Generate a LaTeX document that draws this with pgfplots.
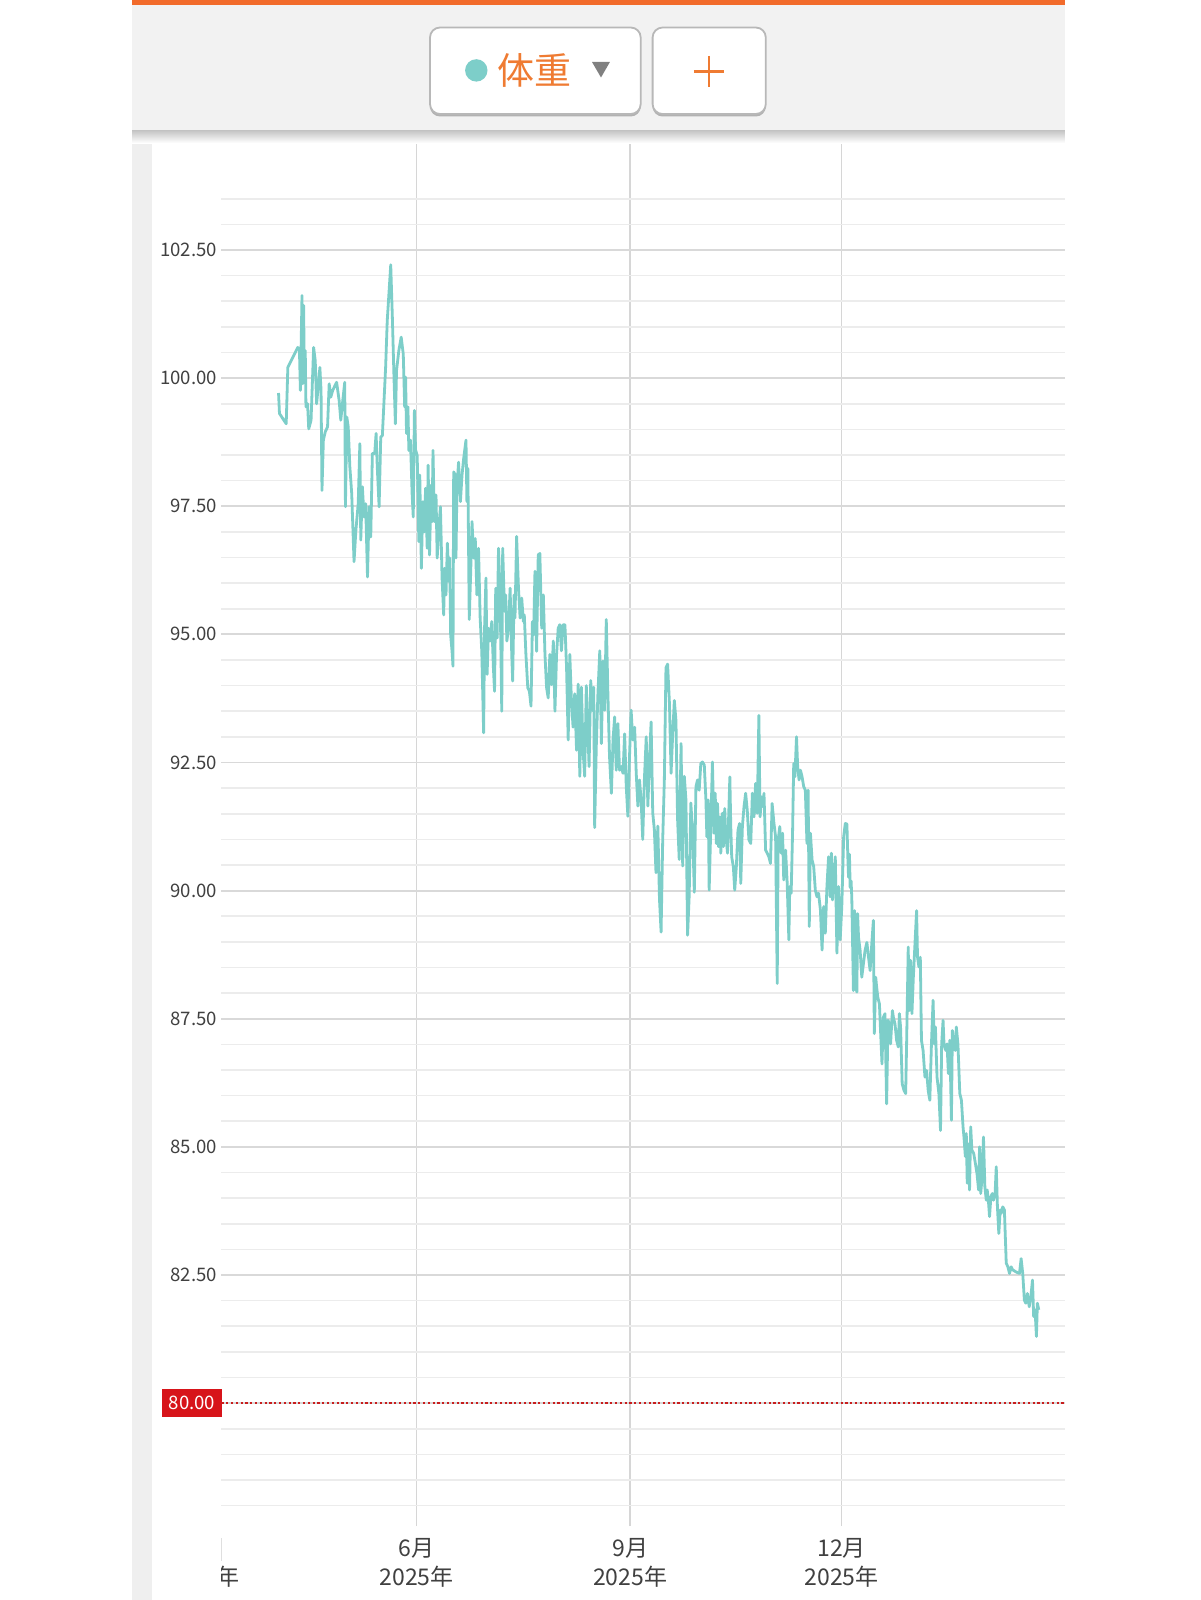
\documentclass[border=0pt]{standalone}
\usepackage{fontspec}
\setmainfont{Noto Sans CJK SC}
\usepackage{pgfplots}
\pgfplotsset{compat=1.18}
\definecolor{barorange}{HTML}{F26B2B}
\definecolor{headgray}{HTML}{F2F2F2}
\definecolor{stripgray}{HTML}{EFEFEF}
\definecolor{tealline}{HTML}{7DCEC9}
\definecolor{txtorange}{HTML}{EF7B32}
\definecolor{labelgray}{HTML}{404040}
\definecolor{vgrid}{HTML}{D6D6D6}
\definecolor{hmajor}{HTML}{D9D9D9}
\definecolor{hminor}{HTML}{ECECEC}
\definecolor{boxred}{HTML}{D7141A}
\definecolor{dotred}{HTML}{C81E1E}
\begin{document}
\begin{tikzpicture}
\begin{scope}[x=0.5pt,y=-0.5pt]
  \fill[white] (0,0) rectangle (1200,1600);
  \fill[stripgray] (132,131) rectangle (151.9,1600);
\end{scope}
\begin{axis}[
  at={(110.7pt,-763.05pt)}, anchor=south west,
  scale only axis, width=421.8pt, height=693.9pt,
  xmin=-84.0, xmax=279.2, ymin=77.6, ymax=104.68,
  axis line style={draw=none},
  major tick length=0pt, minor tick length=0pt,
  xtick={0,92,183},
  xticklabels={{6月\\2025年},{9月\\2025年},{12月\\2025年}},
  xticklabel style={align=center, font=\fontsize{11.5}{14.5}\selectfont, text=labelgray, anchor=north, inner sep=0pt, yshift=-6pt},
  ytick={82.5,85,87.5,90,92.5,95,97.5,100,102.5},
  yticklabels={82.50,85.00,87.50,90.00,92.50,95.00,97.50,100.00,102.50},
  yticklabel style={font=\fontsize{9.3}{11}\selectfont, text=labelgray, anchor=base east, inner sep=0pt, xshift=-2pt, yshift=-3.3pt},
  minor ytick={78,78.5,79,79.5,80.5,81,81.5,82,83,83.5,84,84.5,85.5,86,86.5,87,88,88.5,89,89.5,90.5,91,91.5,92,93,93.5,94,94.5,95.5,96,96.5,97,98,98.5,99,99.5,100.5,101,101.5,102,103,103.5},
  xmajorgrids, ymajorgrids, yminorgrids,
  x grid style={vgrid, line width=0.9pt},
  major grid style={hmajor, line width=0.9pt},
  minor grid style={hminor, line width=0.8pt},
  extra y ticks={80}, extra y tick labels={80.00},
  extra y tick style={yticklabel style={fill=boxred, text=white, minimum width=30pt, minimum height=14pt, inner sep=0pt, xshift=2.5pt}},
]
\addplot[dotred, line width=1.1pt, dash pattern=on 1.1pt off 1.3pt] coordinates {(-84.0,80) (279.2,80)};
\addplot[tealline, line width=1.4pt, line join=round] coordinates {
(-59.4,99.71) (-59.0,99.31) (-56.1,99.11) (-55.4,100.21) (-51.1,100.60) (-50.4,100.54) (-50.0,99.76) (-49.3,101.61) (-49.0,99.89) (-48.6,101.42) (-48.3,100.02) (-47.9,100.54) (-47.6,99.44) (-46.9,99.50) (-46.4,99.01) (-45.4,99.18) (-44.3,100.60) (-43.6,100.34) (-43.0,99.50) (-42.1,99.95) (-41.6,100.21) (-41.1,99.76) (-40.7,97.81) (-40.1,98.79) (-39.3,98.95) (-38.3,99.05) (-37.6,99.89) (-36.9,99.63) (-36.1,99.76) (-34.4,99.92) (-33.3,99.56) (-32.6,99.18) (-31.9,99.50) (-30.9,99.92) (-30.6,97.49) (-30.0,99.24) (-29.4,99.05) (-28.7,98.27) (-27.9,97.75) (-26.9,96.42) (-26.1,97.03) (-25.1,97.55) (-24.4,98.72) (-24.0,96.84) (-23.3,97.88) (-22.6,97.29) (-21.9,97.55) (-21.1,96.12) (-20.4,97.49) (-19.7,96.90) (-19.0,98.53) (-18.0,98.53) (-17.4,98.92) (-16.9,98.27) (-16.1,97.49) (-15.4,98.85) (-14.7,98.88) (-13.3,100.21) (-12.6,101.12) (-11.1,102.21) (-10.4,101.19) (-9.7,100.02) (-9.1,99.11) (-8.6,100.15) (-7.6,100.54) (-6.6,100.80) (-5.7,100.47) (-5.1,99.44) (-4.7,100.02) (-4.3,98.92) (-3.7,99.44) (-3.3,98.59) (-2.6,98.79) (-1.9,97.75) (-1.4,97.29) (-0.9,99.37) (-0.4,98.6)
(0.3,98.49) (1.0,96.81) (1.4,98.11) (2.1,96.29) (2.7,97.59) (3.4,97.00) (3.9,97.85) (4.6,96.68) (5.0,98.30) (5.6,96.55) (6.3,97.91) (6.7,97.20) (7.1,98.59) (7.7,97.20) (8.4,97.72) (8.9,96.49) (9.6,97.07) (10.3,97.49) (11.0,96.10) (11.7,95.38) (12.1,96.29) (12.7,95.77) (13.3,96.78) (13.9,96.03) (14.3,96.49) (14.7,94.99) (15.3,94.67) (15.7,94.38) (16.0,98.17) (16.7,98.11) (17.0,96.49) (17.4,97.85) (18.1,98.36) (18.9,97.59) (19.6,98.11) (20.3,98.43) (21.3,98.79) (21.7,97.59) (22.1,98.24) (22.7,95.29) (23.3,96.16) (23.9,97.20) (24.6,96.49) (25.3,96.87) (26.0,95.77) (26.7,96.68) (27.4,95.32) (28.1,94.67) (28.9,93.08) (29.3,95.12) (29.9,96.10) (30.4,94.22) (31.0,95.12) (31.7,94.87) (32.4,95.25) (33.1,94.35) (33.6,93.89) (34.1,95.90) (34.7,94.93) (35.3,96.68) (36.0,95.77) (36.7,93.50) (37.1,96.68) (37.9,95.45) (38.4,95.77) (38.9,94.87) (39.6,95.12) (40.3,95.90) (41.0,94.61) (41.4,94.09) (42.0,95.77) (42.4,95.32) (43.1,96.91) (43.9,95.90) (44.6,95.32) (45.3,95.71) (46.0,95.25) (46.4,95.38) (47.1,94.61) (47.9,93.96) (48.6,93.89) (49.3,93.60) (49.9,95.25) (50.4,94.99) (51.0,96.23) (51.7,94.67) (52.4,96.55) (53.1,96.58) (53.9,95.12) (54.6,95.77) (55.3,94.61) (56.0,93.96) (56.7,93.76) (57.4,94.61) (58.1,94.02) (58.9,94.87) (59.6,93.50) (60.3,94.61) (61.0,95.12)
(61.7,95.19) (62.4,94.68) (63.1,95.19) (63.9,95.19) (64.6,94.35) (65.3,92.94) (66.0,94.61) (66.7,93.71) (67.4,93.19) (68.1,93.84) (68.9,92.74) (69.6,94.03) (70.3,92.23) (71.0,93.97) (71.7,92.74) (72.4,92.23) (73.1,94.00) (73.9,92.94) (74.3,92.42) (75.0,94.10) (75.7,93.52) (76.3,93.97) (76.7,91.23) (77.4,92.81) (78.1,93.84) (78.9,94.68) (79.6,92.87) (80.3,94.48) (81.0,93.52) (81.7,95.29) (82.4,93.84) (83.1,92.61) (83.9,91.90) (84.6,92.94) (85.3,93.39) (86.0,92.35) (86.7,93.26) (87.4,92.35) (88.1,92.42) (88.9,92.29) (89.6,93.06) (90.3,92.03) (91.0,91.45) (91.7,92.61) (92.4,93.52) (93.1,92.94) (93.9,93.19) (94.6,92.29) (95.3,91.65) (96.0,92.16) (96.7,91.77) (97.4,91.00) (98.1,92.16) (98.9,93.00) (99.6,91.65) (100.3,92.55) (101.0,93.29) (101.7,91.52) (102.4,91.19) (103.1,90.35) (103.9,91.26) (104.6,89.84) (105.3,89.19) (106.0,91.00) (106.7,92.16) (107.4,94.35) (108.1,94.42) (108.9,93.65) (109.6,92.29) (110.3,93.06) (111.0,93.71) (111.7,93.32) (112.4,91.39) (113.1,90.61) (113.9,92.87) (114.6,90.48) (115.3,92.23) (116.0,91.77) (116.7,89.13) (117.4,89.90) (118.1,91.71) (118.9,91.13) (119.6,89.97) (120.3,92.03) (121.0,92.16)
(121.7,91.96) (122.4,92.48) (123.1,92.51) (123.9,92.45) (124.6,91.77) (125.0,91.05) (125.6,91.77) (126.0,90.01) (126.7,91.25) (127.4,92.51) (128.1,91.12) (128.6,91.90) (129.1,90.92) (129.6,91.70) (130.0,90.86) (130.6,91.44) (131.0,90.73) (131.7,91.51) (132.1,90.86) (132.7,91.60) (133.1,91.12) (133.9,90.73) (134.3,91.31) (134.9,92.22) (135.3,91.25) (135.7,90.66) (136.4,90.47) (137.0,90.01) (137.7,90.47) (138.4,91.18) (139.1,91.31) (139.6,90.14) (140.3,91.25) (141.0,91.64) (141.7,91.90) (142.4,91.57) (143.1,90.99) (143.9,90.92) (144.6,91.90) (145.3,91.44) (146.0,92.09) (146.7,91.51) (147.4,93.42) (147.9,91.44) (148.6,91.83) (149.1,91.64) (149.6,91.90) (150.3,90.79) (151.0,90.73) (151.7,90.66) (152.4,90.53) (153.1,91.70) (153.9,91.31) (154.6,91.05) (155.3,88.19) (155.7,90.99) (156.4,91.25) (157.0,90.73) (157.6,91.12) (158.1,90.21) (158.9,90.79) (159.6,90.14) (160.3,89.04) (160.7,90.08) (161.3,89.95) (161.9,91.12) (162.4,92.48) (162.9,92.22) (163.6,93.00) (164.1,92.42) (164.7,92.16) (165.3,92.35) (166.0,92.22) (166.7,92.03) (167.4,91.96) (168.1,90.92) (168.6,91.96) (169.1,89.30) (169.6,91.12) (170.3,90.60) (171.0,90.47) (171.7,90.01) (172.4,89.88) (173.1,89.95) (173.9,89.62) (174.6,88.84) (175.3,89.69) (176.0,89.17) (176.7,90.08) (177.4,90.66) (178.1,89.88) (178.6,90.73) (179.1,89.82) (179.6,90.21) (180.3,90.66) (181.0,88.78) (181.7,90.08) (182.4,89.04) (183.1,89.69) (183.9,91.05) (184.6,91.31)
(185.3,91.30) (185.7,90.65) (186.0,90.26) (186.4,90.71) (186.7,90.06) (187.1,90.19) (187.4,89.87) (188.1,88.05) (188.6,89.61) (189.1,88.12) (189.6,88.02) (189.9,89.55) (190.3,89.09) (191.0,88.83) (191.7,88.31) (192.4,88.57) (193.1,88.83) (193.9,88.99) (194.6,88.70) (195.3,88.44) (196.0,88.96) (196.7,89.42) (197.1,87.21) (197.7,88.31) (198.1,88.12) (198.6,87.92) (199.3,87.79) (199.9,87.14) (200.4,86.62) (201.0,87.53) (201.7,87.60) (202.4,85.84) (203.0,87.47) (203.6,87.40) (204.1,87.01) (204.9,87.66) (205.3,87.53) (206.0,87.40) (206.7,87.08) (207.4,86.95) (207.9,87.60) (208.4,87.34) (209.1,86.23) (209.9,86.10) (210.6,86.04) (211.0,87.01) (211.7,88.90) (212.1,87.66) (212.7,88.64) (213.3,87.60) (213.9,88.31) (214.6,88.96) (215.3,89.61) (215.7,88.70) (216.3,88.51) (216.9,88.70) (217.4,87.08) (218.1,86.88) (218.9,86.36) (219.6,86.49) (220.3,86.10) (221.0,85.91) (221.7,87.01) (222.4,87.86) (222.9,87.01) (223.4,87.34) (224.1,86.36) (224.9,86.04) (225.6,85.32) (226.1,87.01) (226.7,87.47) (227.1,87.01) (227.9,86.88) (228.4,87.01) (229.0,86.43) (229.6,87.08) (230.3,85.52) (230.7,87.27) (231.3,87.01) (232.0,86.88) (232.4,87.34) (233.1,87.01) (233.9,86.04)
(234.6,85.91) (235.3,85.39) (235.7,85.19) (236.3,84.81) (236.7,85.26) (237.1,84.29) (237.7,85.06) (238.1,84.16) (238.6,85.39) (239.1,84.94) (239.9,84.87) (240.6,84.68) (241.3,84.48) (242.0,84.16) (242.4,85.00) (242.9,84.09) (243.4,84.35) (244.1,85.19) (244.7,84.22) (245.3,83.96) (245.7,84.16) (246.3,83.90) (246.7,83.64) (247.3,84.03) (247.9,84.09) (248.4,83.96) (249.1,84.09) (249.6,84.61) (250.1,83.83) (250.7,83.31) (251.3,83.77) (251.7,83.70) (252.4,83.83) (253.1,83.77) (253.6,83.12) (253.9,82.73) (254.6,82.66) (255.3,82.53) (256.0,82.66) (256.7,82.60) (258.1,82.56) (259.6,82.53) (260.3,82.82) (261.0,82.53) (261.7,82.01) (262.3,81.95) (263.0,82.14) (263.8,81.88) (264.5,82.08) (265.2,82.40) (265.7,81.69) (266.3,81.82) (266.9,81.30) (267.3,81.95) (267.9,81.82)
};
\end{axis}
\begin{scope}[x=0.5pt,y=-0.5pt]
  % clipped March label at left
  \begin{scope}
    \clip (221.4,1528) rectangle (300,1600);
    \node[anchor=north, align=center, font=\fontsize{11.5}{14.5}\selectfont, text=labelgray, inner sep=0pt] at (202.8,1538) {3月\\2025年};
  \end{scope}
  \draw[gray!25, line width=0.6pt] (221.4,1538) -- (221.4,1561);
  % header
  \fill[barorange] (132,0) rectangle (1064.9,5);
  \fill[headgray] (132,5) rectangle (1064.9,131);
  \shade[top color=black!22, bottom color=white] (132,131) rectangle (1064.9,143);
  % button 1
  \fill[black!30, rounded corners=5pt] (430,30) rectangle (640.7,116.5);
  \filldraw[fill=white, draw=black!28, line width=0.9pt, rounded corners=5pt] (430,27.5) rectangle (640.7,114);
  \fill[tealline] (476.3,70.4) circle (5.6pt);
  \node[text=txtorange, font=\fontsize{18.5}{20}\selectfont, inner sep=0pt] at (534.4,70) {体重};
  \fill[black!50] (592,62) -- (609.9,62) -- (601,77.5) -- cycle;
  % button 2
  \fill[black!30, rounded corners=5pt] (652.6,30) rectangle (765.8,116.5);
  \filldraw[fill=white, draw=black!28, line width=0.9pt, rounded corners=5pt] (652.6,27.5) rectangle (765.8,114);
  \draw[txtorange, line width=1.2pt] (693.8,71.4) -- (724.1,71.4) (709.2,56) -- (709.2,87);
\end{scope}
\pgfresetboundingbox
\path[use as bounding box] (0,0) rectangle (600pt,-800pt);
\end{tikzpicture}
\end{document}
